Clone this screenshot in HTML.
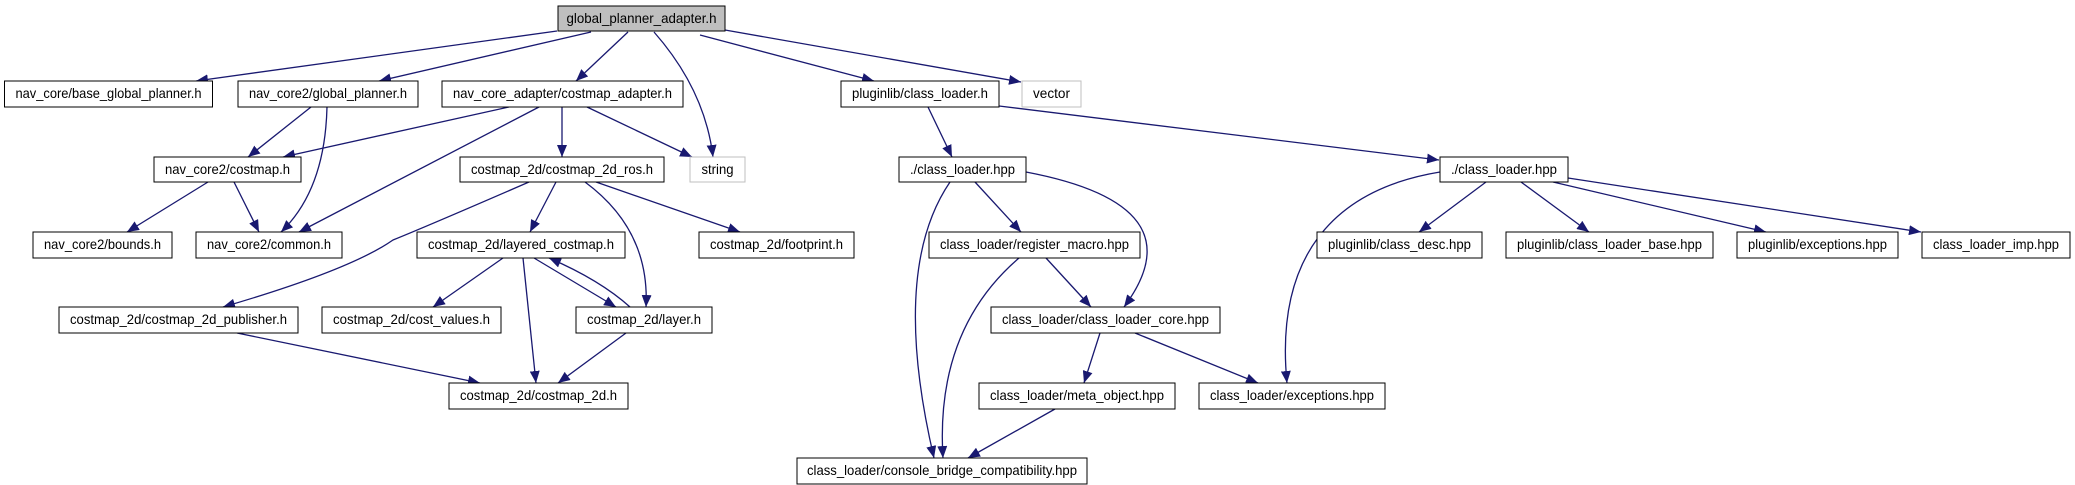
<!DOCTYPE html>
<html><head><meta charset="utf-8"><style>
html,body{margin:0;padding:0;background:#fff;}
svg{display:block;}
text{font-family:"Liberation Sans",sans-serif;font-size:14px;fill:#000;}
</style></head><body>
<svg width="2075" height="485" viewBox="0 0 2075 485" xmlns="http://www.w3.org/2000/svg">
<defs>
<marker id="a" markerUnits="userSpaceOnUse" markerWidth="12" markerHeight="10" refX="12" refY="5" orient="auto">
<path d="M0,0 L12,5 L0,10 Z" fill="#191970"/>
</marker>
</defs>
<g fill="none" stroke="#191970" stroke-width="1.3" marker-end="url(#a)">
<path d="M557,31 L196,81"/>
<path d="M591,32 L379,81"/>
<path d="M628,32 L576,81"/>
<path d="M654,32 Q705,90 713,157"/>
<path d="M700,35 L874,81"/>
<path d="M725,30 L1021,82"/>
<path d="M311,107 L248,157"/>
<path d="M327,107 Q325,190 281,232"/>
<path d="M509,107 L283,157"/>
<path d="M539,107 L299,232"/>
<path d="M562,107 L562,157"/>
<path d="M587,107 L692,157"/>
<path d="M208,182 L127,232"/>
<path d="M234,182 L259,232"/>
<path d="M529,182 Q430,225 393,240 Q350,270 223,307"/>
<path d="M556,182 L530,232"/>
<path d="M585,182 Q650,230 646,307"/>
<path d="M596,182 L740,232"/>
<path d="M503,258 L433,307"/>
<path d="M523,258 L536,383"/>
<path d="M534,258 L616,307"/>
<path d="M630,307 Q600,280 549,258"/>
<path d="M626,333 L558,383"/>
<path d="M237,333 L480,383"/>
<path d="M928,107 L952,157"/>
<path d="M999,106 L1439,160"/>
<path d="M950,182 Q890,270 934,458"/>
<path d="M975,182 L1021,232"/>
<path d="M1026,172 Q1200,205 1124,307"/>
<path d="M1019,258 Q935,330 943,458"/>
<path d="M1046,258 L1091,307"/>
<path d="M1100,333 L1084,383"/>
<path d="M1135,333 L1258,383"/>
<path d="M1055,409 L968,458"/>
<path d="M1440,172 C1330,190 1275,260 1287,383"/>
<path d="M1486,182 L1419,232"/>
<path d="M1521,182 L1589,232"/>
<path d="M1553,182 L1766,232"/>
<path d="M1568,178 L1921,232"/>
</g>
<g stroke="#000" stroke-width="1" fill="#fff">
<rect x="558" y="6" width="167" height="25" fill="#bfbfbf"/>
<rect x="4.5" y="81" width="208" height="26"/>
<rect x="238" y="81" width="180" height="26"/>
<rect x="442" y="81" width="241" height="26"/>
<rect x="841" y="81" width="158" height="26"/>
<rect x="1022" y="81" width="59" height="26" stroke="#bfbfbf"/>
<rect x="154" y="157" width="147" height="25"/>
<rect x="460" y="157" width="204" height="25"/>
<rect x="690" y="157" width="55" height="25" stroke="#bfbfbf"/>
<rect x="899" y="157" width="127" height="25"/>
<rect x="1440" y="157" width="128" height="25"/>
<rect x="33" y="232" width="139" height="26"/>
<rect x="196" y="232" width="146" height="26"/>
<rect x="417" y="232" width="208" height="26"/>
<rect x="699" y="232" width="155" height="26"/>
<rect x="929" y="232" width="211" height="26"/>
<rect x="1317" y="232" width="165" height="26"/>
<rect x="1506" y="232" width="207" height="26"/>
<rect x="1737" y="232" width="161" height="26"/>
<rect x="1922" y="232" width="148" height="26"/>
<rect x="59" y="307" width="239" height="26"/>
<rect x="322" y="307" width="179" height="26"/>
<rect x="576" y="307" width="136" height="26"/>
<rect x="991" y="307" width="229" height="26"/>
<rect x="449" y="383" width="179" height="26"/>
<rect x="979" y="383" width="196" height="26"/>
<rect x="1199" y="383" width="186" height="26"/>
<rect x="797" y="458" width="290" height="26"/>
</g>
<g text-anchor="middle" lengthAdjust="spacingAndGlyphs">
<text x="641.5" y="23" textLength="150" lengthAdjust="spacingAndGlyphs">global_planner_adapter.h</text>
<text x="108.5" y="98" textLength="186" lengthAdjust="spacingAndGlyphs">nav_core/base_global_planner.h</text>
<text x="328" y="98" textLength="158" lengthAdjust="spacingAndGlyphs">nav_core2/global_planner.h</text>
<text x="562.5" y="98" textLength="219" lengthAdjust="spacingAndGlyphs">nav_core_adapter/costmap_adapter.h</text>
<text x="920" y="98" textLength="136" lengthAdjust="spacingAndGlyphs">pluginlib/class_loader.h</text>
<text x="1051.5" y="98" textLength="37" lengthAdjust="spacingAndGlyphs">vector</text>
<text x="227.5" y="174" textLength="125" lengthAdjust="spacingAndGlyphs">nav_core2/costmap.h</text>
<text x="562" y="174" textLength="182" lengthAdjust="spacingAndGlyphs">costmap_2d/costmap_2d_ros.h</text>
<text x="717.5" y="174" textLength="32" lengthAdjust="spacingAndGlyphs">string</text>
<text x="962.5" y="174" textLength="105" lengthAdjust="spacingAndGlyphs">./class_loader.hpp</text>
<text x="1504" y="174" textLength="106" lengthAdjust="spacingAndGlyphs">./class_loader.hpp</text>
<text x="102.5" y="249" textLength="117" lengthAdjust="spacingAndGlyphs">nav_core2/bounds.h</text>
<text x="269" y="249" textLength="124" lengthAdjust="spacingAndGlyphs">nav_core2/common.h</text>
<text x="521" y="249" textLength="186" lengthAdjust="spacingAndGlyphs">costmap_2d/layered_costmap.h</text>
<text x="776.5" y="249" textLength="133" lengthAdjust="spacingAndGlyphs">costmap_2d/footprint.h</text>
<text x="1034.5" y="249" textLength="189" lengthAdjust="spacingAndGlyphs">class_loader/register_macro.hpp</text>
<text x="1399.5" y="249" textLength="143" lengthAdjust="spacingAndGlyphs">pluginlib/class_desc.hpp</text>
<text x="1609.5" y="249" textLength="185" lengthAdjust="spacingAndGlyphs">pluginlib/class_loader_base.hpp</text>
<text x="1817.5" y="249" textLength="139" lengthAdjust="spacingAndGlyphs">pluginlib/exceptions.hpp</text>
<text x="1996" y="249" textLength="126" lengthAdjust="spacingAndGlyphs">class_loader_imp.hpp</text>
<text x="178.5" y="324" textLength="217" lengthAdjust="spacingAndGlyphs">costmap_2d/costmap_2d_publisher.h</text>
<text x="411.5" y="324" textLength="157" lengthAdjust="spacingAndGlyphs">costmap_2d/cost_values.h</text>
<text x="644" y="324" textLength="114" lengthAdjust="spacingAndGlyphs">costmap_2d/layer.h</text>
<text x="1105.5" y="324" textLength="207" lengthAdjust="spacingAndGlyphs">class_loader/class_loader_core.hpp</text>
<text x="538.5" y="400" textLength="157" lengthAdjust="spacingAndGlyphs">costmap_2d/costmap_2d.h</text>
<text x="1077" y="400" textLength="174" lengthAdjust="spacingAndGlyphs">class_loader/meta_object.hpp</text>
<text x="1292" y="400" textLength="164" lengthAdjust="spacingAndGlyphs">class_loader/exceptions.hpp</text>
<text x="942" y="475" textLength="270" lengthAdjust="spacingAndGlyphs">class_loader/console_bridge_compatibility.hpp</text>
</g>
</svg>
</body></html>
